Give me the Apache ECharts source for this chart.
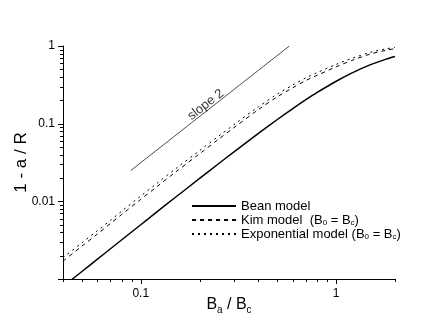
<!DOCTYPE html>
<html>
<head>
<meta charset="utf-8">
<script src="https://cdn.jsdelivr.net/npm/echarts@6/dist/echarts.min.js"></script>
<style>
html,body{margin:0;padding:0;background:#fff;}
#chart{width:436px;height:327px;}
</style>
</head>
<body>
<div id="chart"></div>
<script>
// ---- data ----
const fieldRatio = [0.04,0.05,0.06,0.07,0.08,0.1,0.12,0.15,0.2,0.25,0.3,0.4,0.5,0.6,0.7,0.8,1.0,1.2,1.5,1.8,2.0];
const beanModel = [0.0008,0.00125,0.0018,0.00245,0.0032,0.0050,0.0072,0.0112,0.0197,0.0305,0.0434,0.0750,0.1132,0.1564,0.2033,0.2523,0.3519,0.4477,0.5749,0.6782,0.7342];
const kimModel = [0.0017,0.00265,0.0038,0.0052,0.0068,0.0106,0.0152,0.0236,0.041,0.063,0.089,0.152,0.222,0.29,0.36,0.42,0.54,0.65,0.79,0.88,0.925];
const expModel = [0.00188,0.00293,0.0042,0.0057,0.0075,0.0117,0.0168,0.026,0.045,0.069,0.097,0.165,0.24,0.315,0.39,0.455,0.58,0.69,0.83,0.92,0.955];
const slopeLineX = [0.089, 0.576];
const slopeLineY = [0.025, 1.0];
const slopeLabelPos = [0.215, 0.175];
const xMajorTicks = [0.1, 1];
const xMinorTicks = [0.04,0.05,0.06,0.07,0.08,0.09,0.2,0.3,0.4,0.5,0.6,0.7,0.8,0.9,2];
const yMajorTicks = [0.001, 0.01, 0.1, 1];
const yMinorTicks = [0.002,0.003,0.004,0.005,0.006,0.007,0.008,0.009,0.02,0.03,0.04,0.05,0.06,0.07,0.08,0.09,0.2,0.3,0.4,0.5,0.6,0.7,0.8,0.9];
const seriesNames = ['Bean model', 'Kim model  (B0 = Bc)', 'Exponential model (B0 = Bc)'];

const FONT = '"Liberation Sans", Arial, Helvetica, sans-serif';
const zip = (xs, ys) => xs.map((x, i) => [x, ys[i]]);

function xTickSeries(vals, len) {
  return {
    type: 'custom', silent: true, clip: false, z: 5,
    data: vals.map(v => [v, 1]),
    renderItem: (params, api) => {
      const cs = params.coordSys;
      const x = Math.round(api.coord([api.value(0), 1])[0]) + 0.5;
      const y = cs.y + cs.height;
      return {type: 'line', shape: {x1: x, y1: y, x2: x, y2: y + len}, style: {stroke: '#000', lineWidth: 1}};
    }
  };
}
function yTickSeries(vals, len) {
  return {
    type: 'custom', silent: true, clip: false, z: 5,
    data: vals.map(v => [1, v]),
    renderItem: (params, api) => {
      const cs = params.coordSys;
      const y = Math.round(api.coord([1, api.value(1)])[1]) + 0.5;
      const x = cs.x;
      return {type: 'line', shape: {x1: x, y1: y, x2: x - len, y2: y}, style: {stroke: '#000', lineWidth: 1}};
    }
  };
}

const fmt = v => String(parseFloat(Number(v).toPrecision(6)));

const legendRich = {
  t: {fontSize: 13, fontFamily: FONT, color: '#000', lineHeight: 14},
  s: {fontSize: 8, fontFamily: FONT, color: '#000', lineHeight: 7, verticalAlign: 'bottom'}
};

const chart = echarts.init(document.getElementById('chart'), null, {renderer: 'canvas'});
chart.setOption({
  animation: false,
  backgroundColor: '#fff',
  grid: {left: 63, right: 41, top: 46, bottom: 48, containLabel: false, outerBoundsMode: 'none'},
  legend: {
    orient: 'vertical', left: 186, top: 194,
    itemWidth: 44, itemHeight: 10, itemGap: 0,
    data: seriesNames,
    itemStyle: {opacity: 0},
    formatter: name => name
      .replace('Kim model  (B0 = Bc)', '{t|Kim model  (B}{s|0}{t| = B}{s|c}{t|)}')
      .replace('Exponential model (B0 = Bc)', '{t|Exponential model (B}{s|0}{t| = B}{s|c}{t|)}')
      .replace(/^Bean model$/, '{t|Bean model}'),
    textStyle: {fontSize: 13, fontFamily: FONT, color: '#000', lineHeight: 14, rich: legendRich}
  },
  xAxis: {
    type: 'log', logBase: 10, min: 0.04, max: 2,
    name: '{b|B}{s|a}{b| / B}{s|c}',
    nameLocation: 'middle', nameGap: 16, nameMoveOverlap: false,
    nameTextStyle: {rich: {
      b: {fontSize: 16, fontFamily: FONT, color: '#000', lineHeight: 20},
      s: {fontSize: 10, fontFamily: FONT, color: '#000', lineHeight: 8, verticalAlign: 'bottom'}
    }},
    axisLine: {lineStyle: {color: '#000', width: 1}},
    axisTick: {show: false},
    splitLine: {show: false},
    axisLabel: {fontSize: 12, fontFamily: FONT, color: '#000', margin: 9, showMinLabel: false, showMaxLabel: false, formatter: fmt}
  },
  yAxis: {
    type: 'log', logBase: 10, min: 0.001, max: 1,
    name: '1 - a / R',
    nameLocation: 'middle', nameGap: 33, nameRotate: 90, nameMoveOverlap: false,
    nameTextStyle: {fontSize: 17, fontFamily: FONT, color: '#000'},
    axisLine: {lineStyle: {color: '#000', width: 1}},
    axisTick: {show: false},
    splitLine: {show: false},
    axisLabel: {fontSize: 12, fontFamily: FONT, color: '#000', margin: 8, showMinLabel: false, formatter: fmt}
  },
  series: [
    {
      name: seriesNames[0], type: 'line', data: zip(fieldRatio, beanModel),
      symbol: 'none', smooth: 0.3, lineStyle: {color: '#000', width: 1.5, type: 'solid'}, itemStyle: {color: '#000'}
    },
    {
      name: seriesNames[1], type: 'line', data: zip(fieldRatio, kimModel),
      symbol: 'none', smooth: 0.3, lineStyle: {color: '#000', width: 1, type: [4, 4]}, itemStyle: {color: '#000'}
    },
    {
      name: seriesNames[2], type: 'line', data: zip(fieldRatio, expModel),
      symbol: 'none', smooth: 0.3, lineStyle: {color: '#000', width: 1, type: [2, 4]}, itemStyle: {color: '#000'}
    },
    {
      name: 'slope', type: 'line', data: zip(slopeLineX, slopeLineY), silent: true,
      symbol: 'none', lineStyle: {color: '#000', width: 0.7}
    },
    {
      name: 'slopeLabel', type: 'scatter', data: [slopeLabelPos], symbolSize: 0, silent: true,
      label: {show: true, position: 'inside', formatter: 'slope 2', rotate: 38, fontSize: 13, fontFamily: FONT, color: '#000'}
    },
    xTickSeries(xMajorTicks, 5),
    xTickSeries(xMinorTicks, 3),
    yTickSeries(yMajorTicks, 5),
    yTickSeries(yMinorTicks, 3)
  ]
});
</script>
</body>
</html>
